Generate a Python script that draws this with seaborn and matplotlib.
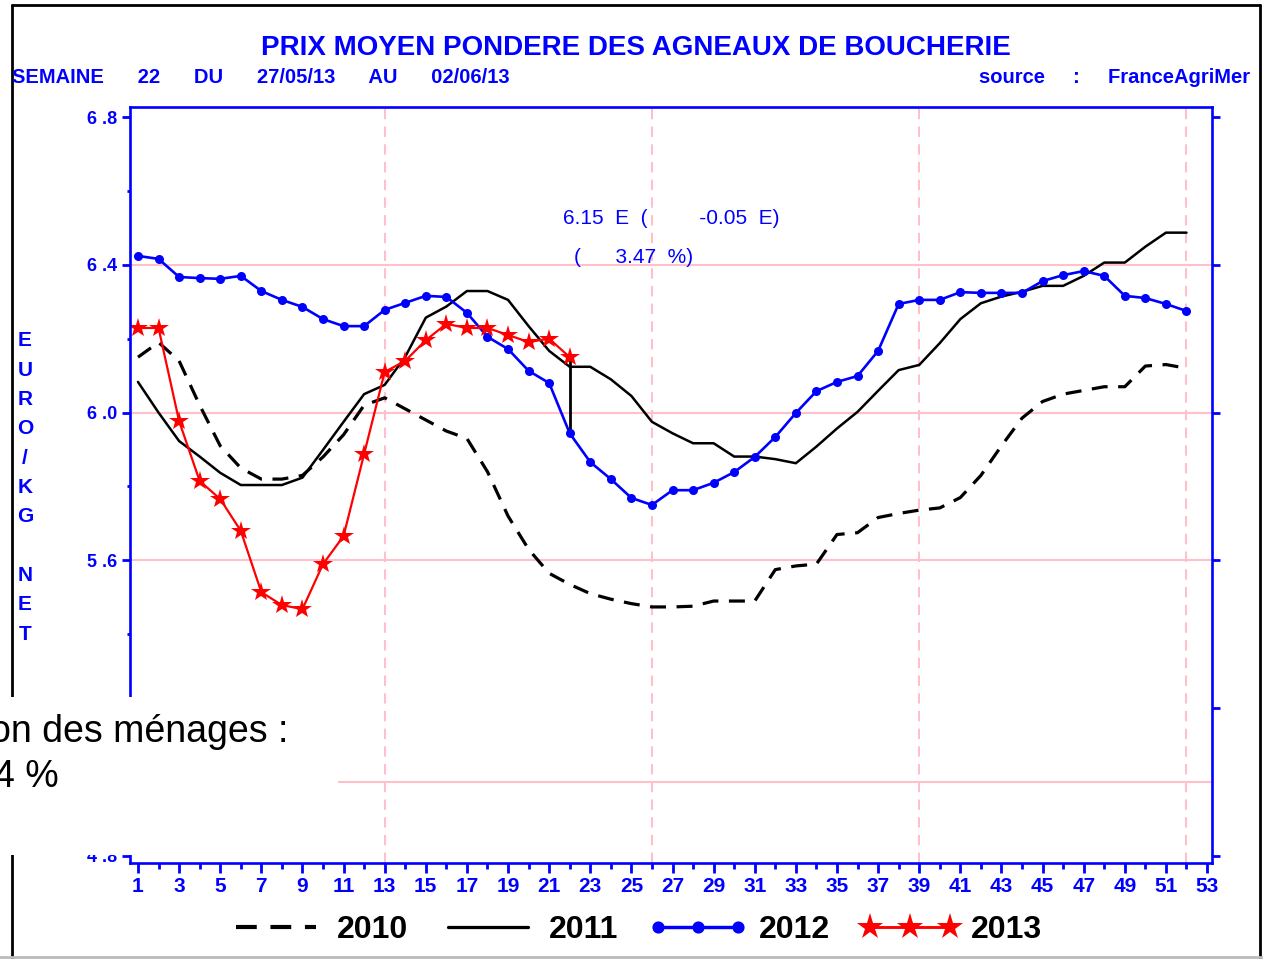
import numpy as np
import pandas as pd
import matplotlib
matplotlib.use("Agg")
import matplotlib.pyplot as plt
import seaborn as sns
from matplotlib.patches import Rectangle
from matplotlib.lines import Line2D

# ---------------- data ----------------
weeks = list(range(1, 53))
weeks_2013 = list(range(1, 23))

p2010 = [6.15, 6.19, 6.14, 6.02, 5.91, 5.85, 5.82, 5.82, 5.83, 5.88,
         5.94, 6.02, 6.04, 6.01, 5.98, 5.95, 5.93, 5.84, 5.72, 5.63,
         5.565, 5.535, 5.51, 5.495, 5.483, 5.474, 5.474, 5.476, 5.49, 5.49,
         5.49, 5.575, 5.585, 5.59, 5.67, 5.675, 5.716, 5.727, 5.736, 5.742,
         5.77, 5.83, 5.91, 5.985, 6.03, 6.05, 6.06, 6.07, 6.07, 6.126,
         6.13, 6.12]
p2011 = [6.083, 6.00, 5.923, 5.881, 5.837, 5.804, 5.804, 5.804, 5.824, 5.899,
         5.975, 6.05, 6.075, 6.151, 6.257, 6.287, 6.329, 6.329, 6.305, 6.234,
         6.167, 6.124, 6.124, 6.09, 6.045, 5.975, 5.944, 5.917, 5.917, 5.881,
         5.881, 5.874, 5.863, 5.908, 5.957, 6.002, 6.059, 6.115, 6.129, 6.188,
         6.253, 6.296, 6.314, 6.327, 6.343, 6.343, 6.37, 6.406, 6.406, 6.449,
         6.487, 6.487]
p2012 = [6.424, 6.416, 6.367, 6.364, 6.362, 6.37, 6.329, 6.305, 6.286, 6.253,
         6.234, 6.234, 6.278, 6.297, 6.316, 6.313, 6.27, 6.205, 6.172, 6.113,
         6.08, 5.944, 5.866, 5.82, 5.769, 5.75, 5.79, 5.79, 5.81, 5.839,
         5.88, 5.934, 5.999, 6.058, 6.083, 6.099, 6.167, 6.294, 6.305, 6.305,
         6.326, 6.324, 6.324, 6.324, 6.356, 6.372, 6.383, 6.37, 6.316, 6.31,
         6.294, 6.275]
p2013 = [6.229, 6.229, 5.977, 5.815, 5.766, 5.68, 5.514, 5.479, 5.468, 5.59,
         5.666, 5.888, 6.11, 6.14, 6.196, 6.24, 6.229, 6.229, 6.21, 6.191,
         6.20, 6.15]

series_labels = ["2010", "2011", "2012", "2013"]
xtick_values = list(range(1, 54, 2))
ytick_values = [4.8, 5.2, 5.6, 6.0, 6.4, 6.8]
ytick_labels = ["4 .8", "5 .2", "5 .6", "6 .0", "6 .4", "6 .8"]
yminor_values = [5.0, 5.4, 5.8, 6.2, 6.6]
grid_values = [5.6, 6.0, 6.4]
quarter_weeks = [13, 26, 39, 52]

title = "PRIX MOYEN PONDERE DES AGNEAUX DE BOUCHERIE"
subtitle = "SEMAINE      22      DU      27/05/13      AU      02/06/13"
source = "source     :     FranceAgriMer"
note1 = "6.15  E  (         -0.05  E)"
note2 = "(      3.47  %)"
ylabel = "EURO/KG NET"

# ---------------- style ----------------
sns.set_theme(style="white")
plt.rcParams['font.family'] = ['Liberation Sans', 'DejaVu Sans']

BLUE = '#0000FF'
PINK = '#FFC0CB'

fig = plt.figure(figsize=(12.63, 9.59), dpi=100)
ax = fig.add_axes([0.1029, 0.1001, 0.8567, 0.7883])

# grid-like reference lines
for g in grid_values:
    ax.axhline(g, color=PINK, lw=1.5, zorder=0.5)
ax.axhline(5.0, xmin=0.1924, xmax=1, color=PINK, lw=1.5, zorder=0.5)
for w in quarter_weeks:
    ax.axvline(w, color=PINK, lw=1.5, linestyle=(0, (5, 3.5)), zorder=0.5)

sns.lineplot(x=weeks, y=p2010, ax=ax, color='black', lw=2.3,
             linestyle=(0, (5, 3.3)), label=series_labels[0])
sns.lineplot(x=weeks, y=p2011, ax=ax, color='black', lw=1.8,
             label=series_labels[1])
sns.lineplot(x=weeks, y=p2012, ax=ax, color=BLUE, lw=1.9, marker='o',
             markersize=6.5, markeredgewidth=0, label=series_labels[2])
sns.lineplot(x=weeks_2013, y=p2013, ax=ax, color='red', lw=1.6, marker='*',
             markersize=15, markeredgewidth=0, label=series_labels[3])

# link between current week 2013 and same week 2012
ax.vlines(weeks_2013[-1], p2012[len(p2013) - 1], p2013[-1], colors='black',
          lw=2, zorder=1.5)

ax.set_xlim(0.61, 53.24)
ax.set_ylim(4.781, 6.827)
ax.set_xlabel("")
ax.set_ylabel("")

ax.set_xticks(xtick_values)
ax.set_xticks(list(range(2, 53, 2)), minor=True)
ax.set_xticklabels([str(v) for v in xtick_values], fontweight='bold',
                   fontsize=15)
ax.set_yticks(ytick_values)
ax.set_yticks(yminor_values, minor=True)
ax.set_yticklabels(ytick_labels, fontweight='bold', fontsize=13)

ax.tick_params(axis='x', which='major', direction='out', length=7, width=2,
               color=BLUE, labelcolor=BLUE, pad=3, bottom=True)
ax.tick_params(axis='x', which='minor', direction='out', length=4, width=2,
               color=BLUE, bottom=True)
ax.tick_params(axis='y', which='major', direction='out', length=6, width=2,
               color=BLUE, labelcolor=BLUE, left=True, right=True, pad=3)
ax.tick_params(axis='y', which='minor', direction='out', length=2, width=2,
               color=BLUE, left=True, right=False)

for s in ax.spines.values():
    s.set_color(BLUE)
    s.set_linewidth(1.9)

leg = ax.legend(loc='center', bbox_to_anchor=(0.466, -0.089), ncol=4,
                frameon=False, numpoints=3, handlelength=3.1,
                handletextpad=0.35, columnspacing=0.95, markerscale=1.35,
                labelcolor='black',
                prop={'family': 'Liberation Sans', 'weight': 'bold',
                      'size': 23})
for h in leg.get_lines():
    h.set_linewidth(h.get_linewidth() * 1.3)

# ---------------- texts ----------------
fig.text(0.5036, 0.950, title, ha='center', va='center', color=BLUE,
         fontsize=20, fontweight='bold')
fig.text(0.0095, 0.9197, subtitle, ha='left', va='center', color=BLUE,
         fontsize=14.5, fontweight='bold')
fig.text(0.9897, 0.9187, source, ha='right', va='center', color=BLUE,
         fontsize=14.5, fontweight='bold')
ax.text(0.40, 0.853, note1, transform=ax.transAxes, ha='left', va='center',
        color=BLUE, fontsize=15)
ax.text(0.41, 0.801, note2, transform=ax.transAxes, ha='left', va='center',
        color=BLUE, fontsize=15)

y0 = 1 - 341 / 959
step = 29.3 / 959
for i, ch in enumerate(ylabel):
    if ch != " ":
        fig.text(0.0198, y0 - i * step, ch, ha='center', va='center',
                 color=BLUE, fontsize=15, fontweight='bold')

# outer frame
fig.add_artist(Line2D([0.0095, 0.0095], [0.0, 0.9948], color='black', lw=2,
                      transform=fig.transFigure))
fig.add_artist(Line2D([0.0095, 0.9976], [0.9948, 0.9948], color='black', lw=2,
                      transform=fig.transFigure))
fig.add_artist(Line2D([0.9976, 0.9976], [0.0, 0.9948], color='black', lw=2,
                      transform=fig.transFigure))
fig.add_artist(Line2D([0.0, 1.0], [0.002, 0.002], color='#BBBBBB', lw=2,
                      transform=fig.transFigure))

# pasted overlay box with partial text
fig.add_artist(Rectangle((0, 0.1084), 0.2676, 0.1648, transform=fig.transFigure,
                         facecolor='white', edgecolor='none', zorder=10))
fig.text(-0.008, 0.2367, "on des ménages :", ha='left', va='center',
         color='black', fontsize=27, zorder=11)
fig.text(-0.005, 0.1898, "4 %", ha='left', va='center', color='black',
         fontsize=27, zorder=11)

fig.savefig("out.png", dpi=100)
